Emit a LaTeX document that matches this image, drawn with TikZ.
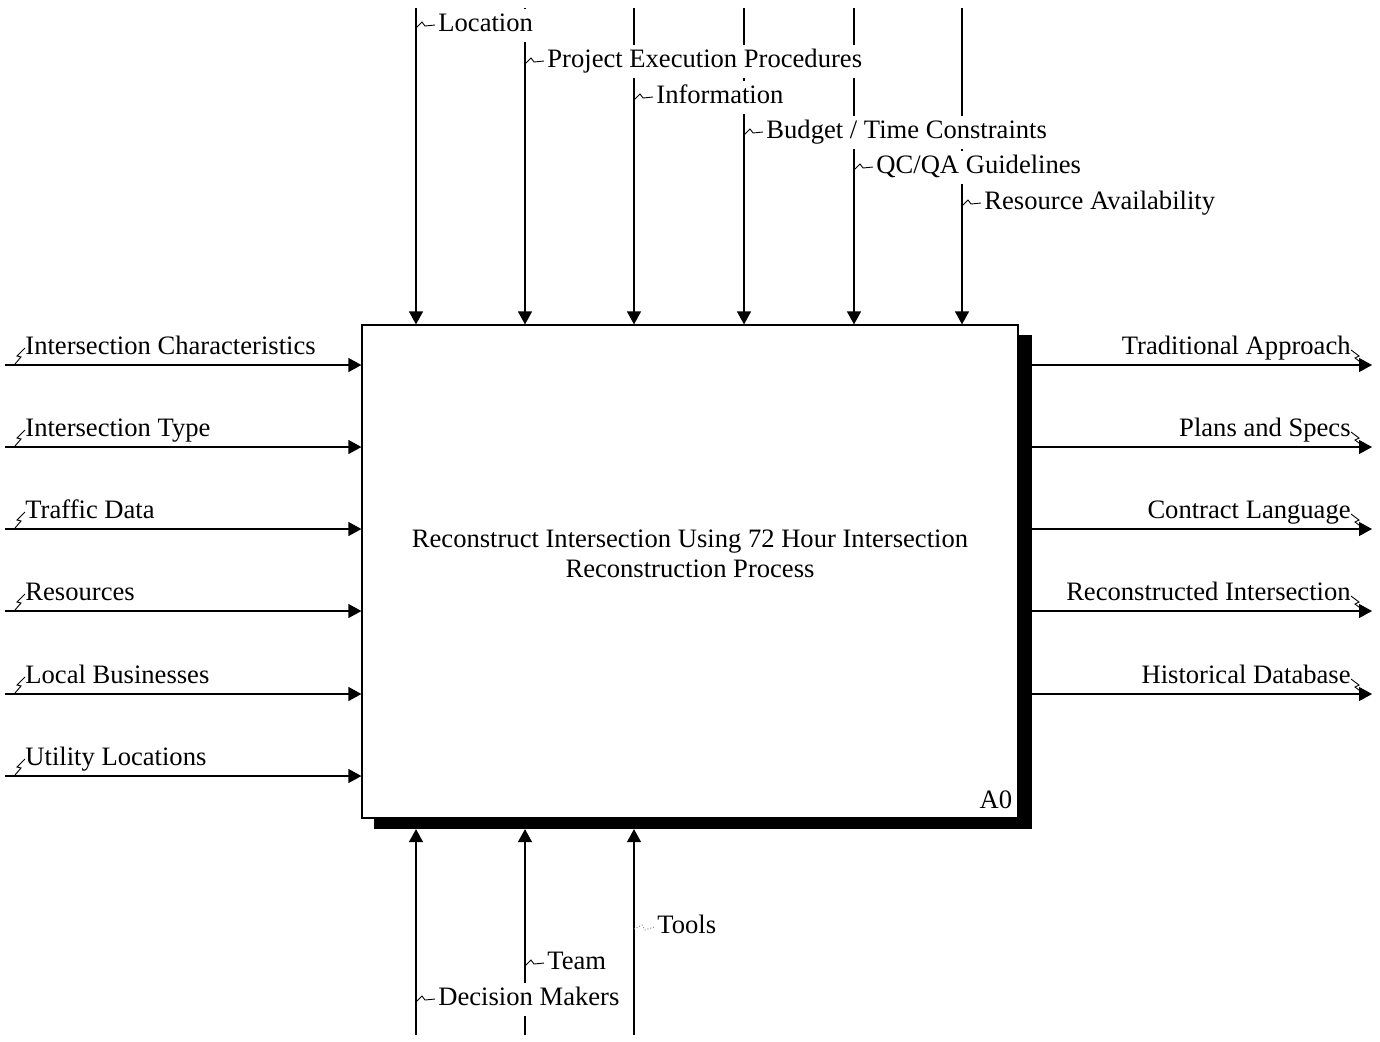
\documentclass[tikz,border=0pt]{standalone}
\usepackage{fontspec}
\setmainfont{Liberation Serif}
\usetikzlibrary{arrows.meta,positioning}

\begin{document}
\begin{tikzpicture}[x=0.5pt,y=-0.5pt,
  flow/.style={line width=0.6pt,-{Triangle[length=6.5pt,width=7pt]}},
  squig/.style={line width=0.45pt},
  tag/.style={fill=white,inner sep=1.5pt,text height=10pt,text depth=3.5pt},
  proc/.style={rectangle,draw,line width=0.6pt,fill=white,
    minimum width=328pt,minimum height=246.5pt,inner sep=0pt},
  font=\fontsize{13.3}{15}\selectfont]
  \useasboundingbox (0,0) rectangle (1380,1041);
  % Activity box with its shadow
  \node[proc,fill=black] (shade) at (703,582) {};
  \node[proc] (proc) at (690,571.5) {};
  \node[align=center] (title) at (690,554)
    {Reconstruct Intersection Using 72 Hour Intersection\\Reconstruction Process};
  \node[anchor=base east,inner sep=0pt] (num) at ([xshift=-3pt,yshift=5pt]proc.south east) {A0};
  % Controls
  \foreach \x [count=\i] in {416,525,634,744,854,962} {
    \coordinate (c\i) at (\x,8);
    \draw[flow] (c\i) -- (c\i |- proc.north);
  }
  \foreach \x/\y/\t [count=\i] in {416/25/Location,525/61/Project Execution Procedures,
      634/97/Information,744/132/{Budget / Time Constraints},
      854/167/{QC/QA Guidelines},962/203/Resource Availability} {
    \node[tag,anchor=west] (t\i) at (\x+19,\y) {\t};
    \draw[squig] (\x,\y+3) -- (\x+6,\y-3) -- (\x+9,\y+1) -- (t\i.west);
  }
  % Mechanisms
  \foreach \x [count=\i] in {416,525,634} {
    \coordinate (m\i) at (\x,1035);
    \draw[flow] (m\i) -- (m\i |- shade.south);
  }
  \foreach \x/\y/\t [count=\i] in {416/999/Decision Makers,525/963/Team} {
    \node[tag,anchor=west] (b\i) at (\x+19,\y) {\t};
    \draw[squig] (\x,\y+3) -- (\x+6,\y-3) -- (\x+9,\y+1) -- (b\i.west);
  }
  \node[tag,anchor=west] (b3) at (654,927) {Tools};
  \draw[squig,gray,densely dotted] (634,929) -- (642,925) -- (645,930) -- (b3.west);
  % Inputs
  \foreach \y/\t [count=\i] in {365/Intersection Characteristics,447/Intersection Type,
      529/Traffic Data,611/Resources,694/Local Businesses,776/Utility Locations} {
    \coordinate (i\i) at (5,\y);
    \draw[flow] (i\i) -- (i\i -| proc.west);
    \node[tag,anchor=west,fill=none] (l\i) at (22,\y-17) {\t};
    \draw[squig] (15,\y-1) -- (21,\y-8) -- (17,\y-9) -- (25,\y-17);
  }
  % Outputs
  \foreach \y/\t [count=\i] in {365/Traditional Approach,447/Plans and Specs,
      529/Contract Language,611/Reconstructed Intersection,694/Historical Database} {
    \coordinate (o\i) at (1372,\y);
    \draw[flow] (o\i -| shade.east) -- (o\i);
    \node[tag,anchor=east,fill=none] (r\i) at (1354,\y-17) {\t};
    \draw[squig] (1351,\y-15) -- (1359,\y-9) -- (1355,\y-7) -- (1363,\y-1);
  }
\end{tikzpicture}
\end{document}
